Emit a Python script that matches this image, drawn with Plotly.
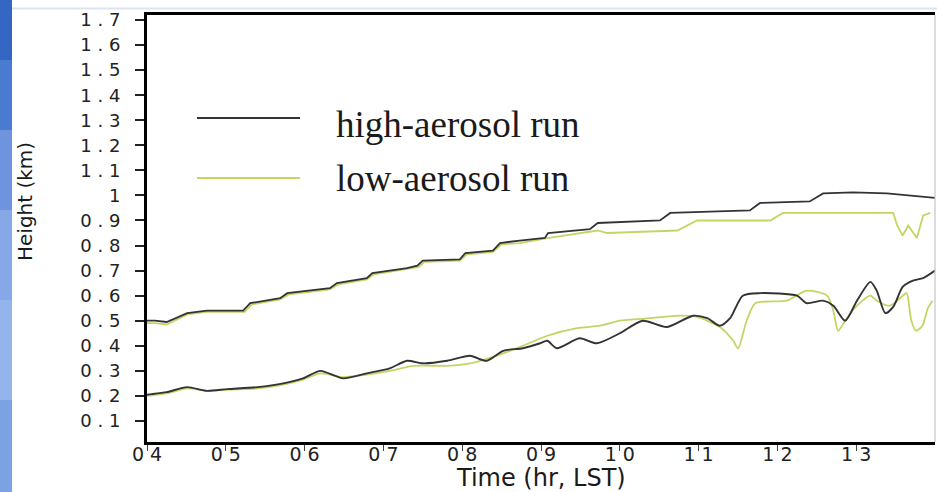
import plotly.graph_objects as go

# Boundary-layer heights (km) vs local time (hr, LST)

# upper curves (top of the mixed layer)
upper_high_t = [4.00, 4.10, 4.25, 4.51, 4.76, 5.22, 5.31, 5.69, 5.78, 6.32, 6.41, 6.79, 6.86,
                7.30, 7.43, 7.50, 7.97, 8.04, 8.39, 8.48, 8.73, 9.05, 9.09, 9.62, 9.72,
                10.51, 10.64, 11.65, 11.78, 12.41, 12.58, 12.96, 13.39, 14.00]
upper_high_h = [0.50, 0.50, 0.495, 0.53, 0.54, 0.54, 0.57, 0.59, 0.61, 0.63, 0.65, 0.67, 0.69,
                0.71, 0.72, 0.74, 0.745, 0.77, 0.78, 0.81, 0.82, 0.83, 0.85, 0.865, 0.89,
                0.90, 0.93, 0.94, 0.97, 0.976, 1.008, 1.012, 1.008, 0.99]

upper_low_t = [4.00, 4.10, 4.25, 4.51, 4.76, 5.24, 5.33, 5.69, 5.80, 6.32, 6.43, 6.79, 6.88,
               7.30, 7.45, 7.52, 7.97, 8.06, 8.39, 8.50, 8.73, 9.08, 9.72, 9.84, 10.73,
               10.98, 11.91, 12.07, 13.47, 13.52, 13.59, 13.66, 13.77, 13.85, 13.94]
upper_low_h = [0.49, 0.49, 0.485, 0.525, 0.535, 0.535, 0.565, 0.585, 0.605, 0.625, 0.645, 0.665, 0.685,
               0.705, 0.715, 0.735, 0.74, 0.765, 0.775, 0.805, 0.81, 0.83, 0.86, 0.85, 0.86,
               0.90, 0.90, 0.93, 0.93, 0.88, 0.84, 0.88, 0.83, 0.92, 0.93]

# lower curves
lower_high_t = [4.00, 4.06, 4.25, 4.51, 4.76, 5.02, 5.40, 5.73, 5.98, 6.20, 6.49, 6.79, 7.08,
                7.30, 7.50, 7.81, 8.10, 8.31, 8.52, 8.77, 8.99, 9.08, 9.20, 9.49, 9.71,
                10.00, 10.29, 10.60, 10.93, 11.11, 11.27, 11.40, 11.56, 11.78, 12.25, 12.37,
                12.58, 12.71, 12.86, 13.01, 13.18, 13.26, 13.37, 13.47, 13.59, 13.72, 13.85, 14.00]
lower_high_h = [0.205, 0.207, 0.215, 0.235, 0.22, 0.227, 0.235, 0.25, 0.27, 0.30, 0.27, 0.29, 0.31,
                0.34, 0.33, 0.34, 0.36, 0.34, 0.38, 0.39, 0.41, 0.42, 0.39, 0.43, 0.41,
                0.45, 0.50, 0.475, 0.52, 0.51, 0.48, 0.51, 0.60, 0.61, 0.60, 0.57,
                0.58, 0.56, 0.50, 0.58, 0.655, 0.62, 0.53, 0.555, 0.635, 0.66, 0.67, 0.70]

lower_low_t = [4.00, 4.25, 4.51, 4.76, 5.02, 5.40, 5.73, 5.98, 6.20, 6.49, 6.79, 7.08, 7.38,
               7.81, 8.10, 8.52, 8.77, 9.08, 9.46, 9.75, 10.00, 10.38, 10.76, 10.98, 11.27,
               11.44, 11.50, 11.61, 11.72, 12.12, 12.37, 12.63, 12.71, 12.77, 12.88, 13.01,
               13.18, 13.26, 13.43, 13.59, 13.64, 13.70, 13.76, 13.84, 13.91, 13.97]
lower_low_h = [0.20, 0.21, 0.23, 0.22, 0.225, 0.23, 0.245, 0.265, 0.29, 0.275, 0.285, 0.30, 0.32,
               0.32, 0.33, 0.37, 0.40, 0.44, 0.47, 0.48, 0.50, 0.51, 0.52, 0.515, 0.475,
               0.42, 0.39, 0.50, 0.57, 0.58, 0.62, 0.60, 0.54, 0.46, 0.51, 0.56,
               0.60, 0.58, 0.56, 0.60, 0.61, 0.50, 0.46, 0.48, 0.55, 0.58]

hour_ticks = list(range(4, 14))
hour_labels = ["0 4", "0 5", "0 6", "0 7", "0 8", "0 9", "1 0", "1 1", "1 2", "1 3"]
height_ticks = [0.1, 0.2, 0.3, 0.4, 0.5, 0.6, 0.7, 0.8, 0.9, 1.0,
                1.1, 1.2, 1.3, 1.4, 1.5, 1.6, 1.7]
height_labels = ["0 . 1", "0 . 2", "0 . 3", "0 . 4", "0 . 5", "0 . 6", "0 . 7", "0 . 8", "0 . 9", "1",
                 "1 . 1", "1 . 2", "1 . 3", "1 . 4", "1 . 5", "1 . 6", "1 . 7"]
legend_names = ["high-aerosol run", "low-aerosol run"]

BLACK = "#333333"
GREEN = "#c3d564"

W, H = 937, 492
ML, MR, MT, MB = 147, 2, 15, 50
PW, PH = W - ML - MR, H - MT - MB


def px(x):
    return (x - ML) / PW


def py(y):
    return (H - MB - y) / PH


fig = go.Figure()
fig.add_trace(go.Scatter(x=upper_low_t, y=upper_low_h, mode="lines",
                         line=dict(color=GREEN, width=1.8), showlegend=False))
fig.add_trace(go.Scatter(x=lower_low_t, y=lower_low_h, mode="lines",
                         line=dict(color=GREEN, width=1.8, shape="spline", smoothing=0.7),
                         showlegend=False))
fig.add_trace(go.Scatter(x=upper_high_t, y=upper_high_h, mode="lines",
                         line=dict(color=BLACK, width=1.8), showlegend=False))
fig.add_trace(go.Scatter(x=lower_high_t, y=lower_high_h, mode="lines",
                         line=dict(color=BLACK, width=1.9, shape="spline", smoothing=0.7),
                         showlegend=False))

shapes = []
# blue slide strip along the left edge
bands = [(0, 60, "#3466c4"), (60, 130, "#4b7bd0"), (130, 210, "#6d94dc"),
         (210, 300, "#86a8e6"), (300, 400, "#94b4ec"), (400, 492, "#7da2e3")]
for y0, y1, c in bands:
    shapes.append(dict(type="rect", xref="paper", yref="paper", x0=px(0), x1=px(12),
                       y0=py(y1), y1=py(y0), fillcolor=c, line=dict(width=0), layer="below"))
shapes.append(dict(type="line", xref="paper", yref="paper", x0=px(12), x1=px(W),
                   y0=py(8.5), y1=py(8.5), line=dict(color="#dbe4f2", width=2)))
# thin right frame
shapes.append(dict(type="line", xref="paper", yref="paper", x0=1, x1=1, y0=0, y1=1,
                   line=dict(color="#c4c4c4", width=1.2)))
# legend samples
shapes.append(dict(type="line", xref="paper", yref="paper", x0=px(197), x1=px(300),
                   y0=py(118), y1=py(118), line=dict(color=BLACK, width=1.8)))
shapes.append(dict(type="line", xref="paper", yref="paper", x0=px(197), x1=px(300),
                   y0=py(178), y1=py(178), line=dict(color=GREEN, width=2)))

serif = dict(family="Liberation Serif", size=37, color="#1a1a1a")
annotations = [
    dict(text=legend_names[0], xref="paper", yref="paper", x=px(334), y=py(125),
         xanchor="left", yanchor="middle", showarrow=False, font=serif),
    dict(text=legend_names[1], xref="paper", yref="paper", x=px(334), y=py(178),
         xanchor="left", yanchor="middle", showarrow=False, font=serif),
    dict(text="Time (hr, LST)", xref="paper", yref="paper", x=px(541), y=py(478),
         xanchor="center", yanchor="middle", showarrow=False,
         font=dict(family="DejaVu Sans", size=24, color="#1a1a1a")),
    dict(text="Height (km)", xref="paper", yref="paper", x=px(25), y=py(202),
         xanchor="center", yanchor="middle", showarrow=False, textangle=-90,
         font=dict(family="DejaVu Sans", size=20, color="#1a1a1a")),
]

fig.update_layout(
    width=W, height=H,
    margin=dict(l=ML, r=MR, t=MT, b=MB, pad=0),
    paper_bgcolor="white", plot_bgcolor="white",
    shapes=shapes, annotations=annotations, showlegend=False,
    xaxis=dict(range=[4, 14], tickmode="array", tickvals=hour_ticks, ticktext=hour_labels,
               showline=True, linecolor="black", linewidth=3, mirror=True,
               ticks="outside", ticklen=6, tickwidth=1.2, tickcolor="#444",
               ticklabelstandoff=-13,
               showgrid=False, zeroline=False,
               tickfont=dict(family="DejaVu Sans", size=19, color="#222")),
    yaxis=dict(range=[0.016, 1.72], tickmode="array", tickvals=height_ticks, ticktext=height_labels,
               showline=True, linecolor="black", linewidth=3,
               ticks="outside", ticklen=9, tickwidth=1.5, tickcolor="#222",
               ticklabelstandoff=11,
               showgrid=False, zeroline=False,
               tickfont=dict(family="DejaVu Sans", size=18, color="#222")),
)

fig.write_html("out.html")
